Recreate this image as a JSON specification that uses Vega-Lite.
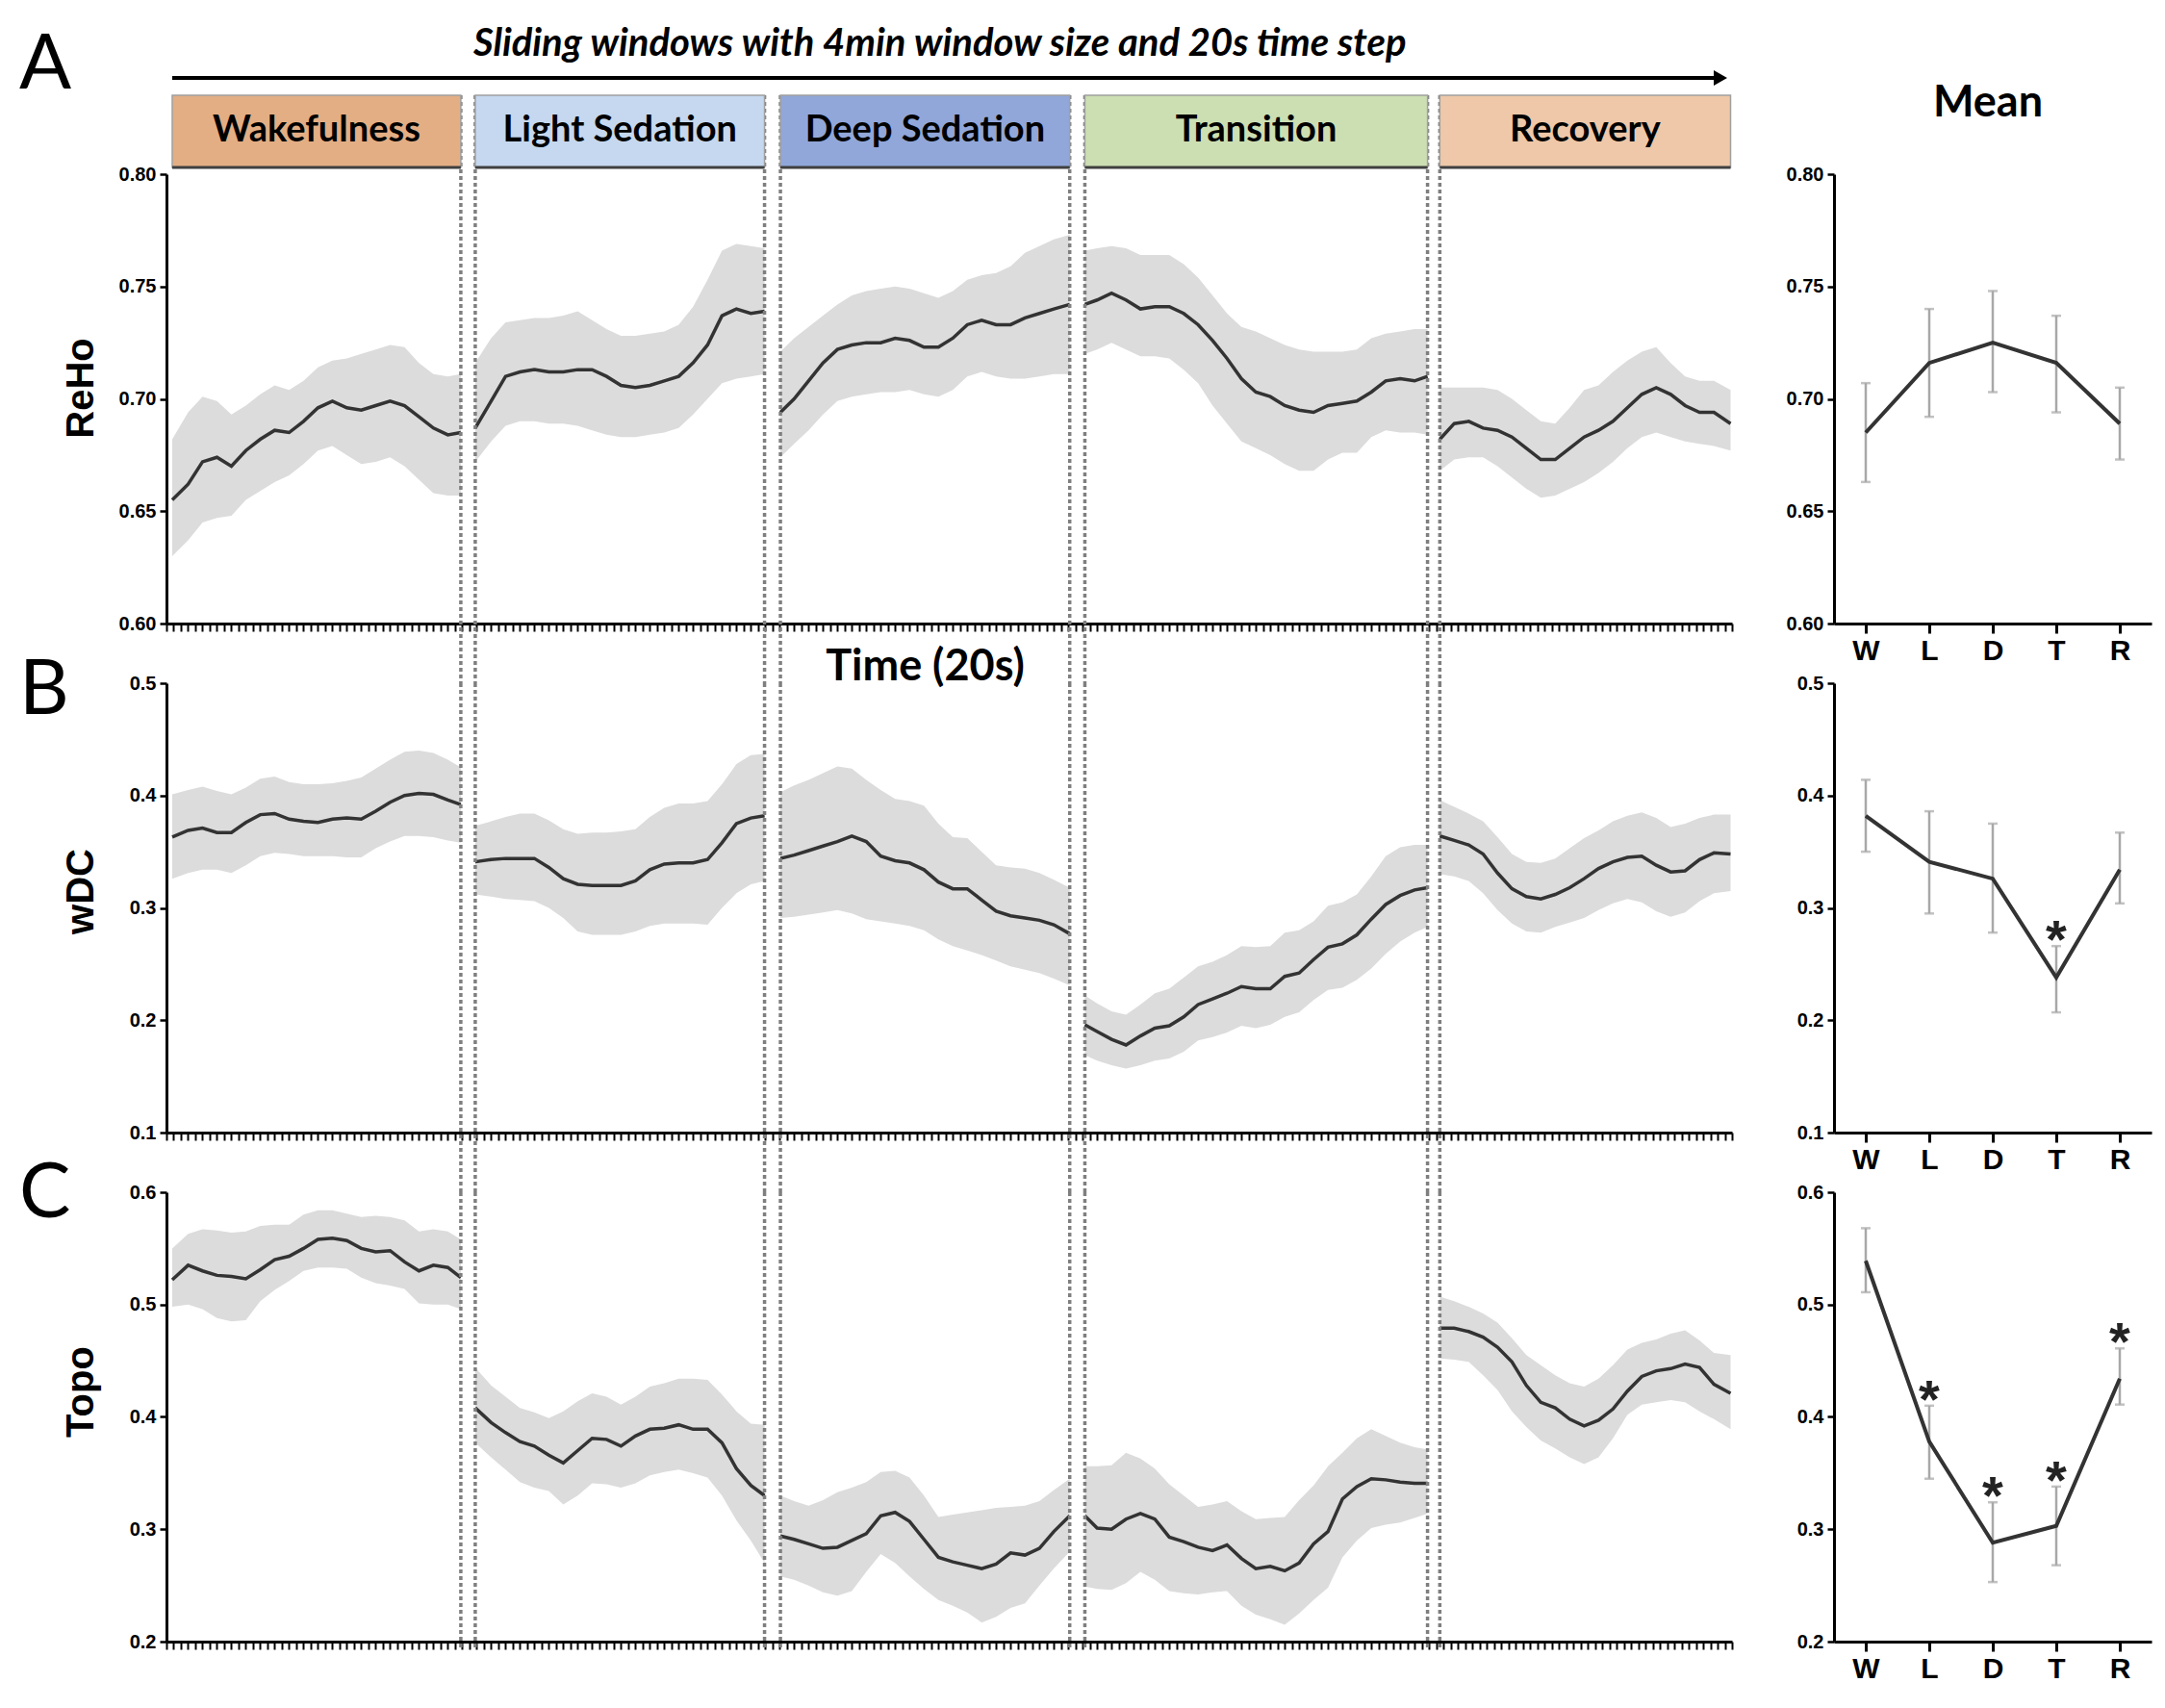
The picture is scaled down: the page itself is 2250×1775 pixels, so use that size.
{
"$schema": "https://vega.github.io/schema/vega-lite/v6.json",
"background": "white",
"padding": {"left": 20, "top": 26, "right": 10, "bottom": 10},
"config": {
  "view": {"stroke": null},
  "axis": {"grid": false, "domainColor": "#000", "domainWidth": 3, "tickColor": "#000", "tickWidth": 2.5, "labelFont": "Liberation Sans", "labelFontWeight": "bold", "labelFontSize": 20, "labelColor": "#000", "titleColor": "#000"}
},
"datasets": {
"phases": [
 {"phase":"Wakefulness","start":0.8,"end":40.8,"mid":20.8},
 {"phase":"Light Sedation","start":42.8,"end":82.9,"mid":62.85},
 {"phase":"Deep Sedation","start":85.1,"end":125.2,"mid":105.15},
 {"phase":"Transition","start":127.3,"end":174.8,"mid":151.05},
 {"phase":"Recovery","start":176.5,"end":216.8,"mid":196.65}
],
"means": [
 {"metric":"ReHo","stage":"W","m":0.685,"lo":0.663,"hi":0.707,"sig":""},
 {"metric":"ReHo","stage":"L","m":0.716,"lo":0.692,"hi":0.740,"sig":""},
 {"metric":"ReHo","stage":"D","m":0.725,"lo":0.703,"hi":0.748,"sig":""},
 {"metric":"ReHo","stage":"T","m":0.716,"lo":0.694,"hi":0.737,"sig":""},
 {"metric":"ReHo","stage":"R","m":0.689,"lo":0.673,"hi":0.705,"sig":""},
 {"metric":"wDC","stage":"W","m":0.382,"lo":0.350,"hi":0.414,"sig":""},
 {"metric":"wDC","stage":"L","m":0.341,"lo":0.295,"hi":0.386,"sig":""},
 {"metric":"wDC","stage":"D","m":0.326,"lo":0.278,"hi":0.375,"sig":""},
 {"metric":"wDC","stage":"T","m":0.238,"lo":0.207,"hi":0.266,"sig":"*"},
 {"metric":"wDC","stage":"R","m":0.334,"lo":0.304,"hi":0.367,"sig":""},
 {"metric":"Topo","stage":"W","m":0.539,"lo":0.511,"hi":0.568,"sig":""},
 {"metric":"Topo","stage":"L","m":0.378,"lo":0.345,"hi":0.410,"sig":"*"},
 {"metric":"Topo","stage":"D","m":0.288,"lo":0.253,"hi":0.324,"sig":"*"},
 {"metric":"Topo","stage":"T","m":0.303,"lo":0.268,"hi":0.338,"sig":"*"},
 {"metric":"Topo","stage":"R","m":0.434,"lo":0.411,"hi":0.461,"sig":"*"}
],
"reho": [
{"p":"W","t":0.8,"m":0.655,"lo":0.630,"hi":0.682},{"p":"W","t":3,"m":0.662,"lo":0.637,"hi":0.694},{"p":"W","t":5,"m":0.672,"lo":0.645,"hi":0.701},{"p":"W","t":7,"m":0.674,"lo":0.647,"hi":0.699},{"p":"W","t":9,"m":0.670,"lo":0.648,"hi":0.693},{"p":"W","t":11,"m":0.677,"lo":0.655,"hi":0.697},{"p":"W","t":13,"m":0.682,"lo":0.659,"hi":0.702},{"p":"W","t":15,"m":0.686,"lo":0.663,"hi":0.706},{"p":"W","t":17,"m":0.685,"lo":0.666,"hi":0.704},{"p":"W","t":19,"m":0.690,"lo":0.671,"hi":0.708},{"p":"W","t":21,"m":0.696,"lo":0.677,"hi":0.714},{"p":"W","t":23,"m":0.699,"lo":0.679,"hi":0.717},{"p":"W","t":25,"m":0.696,"lo":0.675,"hi":0.718},{"p":"W","t":27,"m":0.695,"lo":0.671,"hi":0.720},{"p":"W","t":29,"m":0.697,"lo":0.672,"hi":0.722},{"p":"W","t":31,"m":0.699,"lo":0.674,"hi":0.724},{"p":"W","t":33,"m":0.697,"lo":0.670,"hi":0.723},{"p":"W","t":35,"m":0.692,"lo":0.664,"hi":0.716},{"p":"W","t":37,"m":0.687,"lo":0.658,"hi":0.711},{"p":"W","t":39,"m":0.684,"lo":0.657,"hi":0.710},{"p":"W","t":40.8,"m":0.685,"lo":0.657,"hi":0.711},
{"p":"L","t":42.8,"m":0.687,"lo":0.672,"hi":0.716},{"p":"L","t":45,"m":0.699,"lo":0.681,"hi":0.727},{"p":"L","t":47,"m":0.710,"lo":0.688,"hi":0.734},{"p":"L","t":49,"m":0.712,"lo":0.690,"hi":0.735},{"p":"L","t":51,"m":0.713,"lo":0.690,"hi":0.736},{"p":"L","t":53,"m":0.712,"lo":0.689,"hi":0.736},{"p":"L","t":55,"m":0.712,"lo":0.689,"hi":0.737},{"p":"L","t":57,"m":0.713,"lo":0.688,"hi":0.739},{"p":"L","t":59,"m":0.713,"lo":0.686,"hi":0.735},{"p":"L","t":61,"m":0.710,"lo":0.684,"hi":0.731},{"p":"L","t":63,"m":0.706,"lo":0.683,"hi":0.728},{"p":"L","t":65,"m":0.705,"lo":0.683,"hi":0.728},{"p":"L","t":67,"m":0.706,"lo":0.684,"hi":0.729},{"p":"L","t":69,"m":0.708,"lo":0.685,"hi":0.730},{"p":"L","t":71,"m":0.710,"lo":0.687,"hi":0.733},{"p":"L","t":73,"m":0.716,"lo":0.693,"hi":0.741},{"p":"L","t":75,"m":0.724,"lo":0.700,"hi":0.753},{"p":"L","t":77,"m":0.737,"lo":0.707,"hi":0.766},{"p":"L","t":79,"m":0.740,"lo":0.709,"hi":0.769},{"p":"L","t":81,"m":0.738,"lo":0.710,"hi":0.768},{"p":"L","t":82.9,"m":0.739,"lo":0.711,"hi":0.767},
{"p":"D","t":85.1,"m":0.694,"lo":0.674,"hi":0.721},{"p":"D","t":87,"m":0.700,"lo":0.680,"hi":0.727},{"p":"D","t":89,"m":0.708,"lo":0.686,"hi":0.732},{"p":"D","t":91,"m":0.716,"lo":0.693,"hi":0.737},{"p":"D","t":93,"m":0.722,"lo":0.699,"hi":0.742},{"p":"D","t":95,"m":0.724,"lo":0.701,"hi":0.746},{"p":"D","t":97,"m":0.725,"lo":0.702,"hi":0.748},{"p":"D","t":99,"m":0.725,"lo":0.703,"hi":0.749},{"p":"D","t":101,"m":0.727,"lo":0.703,"hi":0.750},{"p":"D","t":103,"m":0.726,"lo":0.704,"hi":0.749},{"p":"D","t":105,"m":0.723,"lo":0.702,"hi":0.747},{"p":"D","t":107,"m":0.723,"lo":0.701,"hi":0.745},{"p":"D","t":109,"m":0.727,"lo":0.704,"hi":0.748},{"p":"D","t":111,"m":0.733,"lo":0.710,"hi":0.753},{"p":"D","t":113,"m":0.735,"lo":0.712,"hi":0.755},{"p":"D","t":115,"m":0.733,"lo":0.710,"hi":0.756},{"p":"D","t":117,"m":0.733,"lo":0.709,"hi":0.759},{"p":"D","t":119,"m":0.736,"lo":0.709,"hi":0.765},{"p":"D","t":121,"m":0.738,"lo":0.710,"hi":0.768},{"p":"D","t":123,"m":0.740,"lo":0.711,"hi":0.771},{"p":"D","t":125.2,"m":0.742,"lo":0.711,"hi":0.773},
{"p":"T","t":127.3,"m":0.742,"lo":0.720,"hi":0.766},{"p":"T","t":129,"m":0.744,"lo":0.722,"hi":0.767},{"p":"T","t":131,"m":0.747,"lo":0.725,"hi":0.768},{"p":"T","t":133,"m":0.744,"lo":0.722,"hi":0.767},{"p":"T","t":135,"m":0.740,"lo":0.719,"hi":0.764},{"p":"T","t":137,"m":0.741,"lo":0.719,"hi":0.764},{"p":"T","t":139,"m":0.741,"lo":0.718,"hi":0.764},{"p":"T","t":141,"m":0.738,"lo":0.713,"hi":0.760},{"p":"T","t":143,"m":0.733,"lo":0.707,"hi":0.754},{"p":"T","t":145,"m":0.726,"lo":0.697,"hi":0.746},{"p":"T","t":147,"m":0.718,"lo":0.689,"hi":0.738},{"p":"T","t":149,"m":0.709,"lo":0.681,"hi":0.732},{"p":"T","t":151,"m":0.703,"lo":0.678,"hi":0.730},{"p":"T","t":153,"m":0.701,"lo":0.675,"hi":0.727},{"p":"T","t":155,"m":0.697,"lo":0.671,"hi":0.724},{"p":"T","t":157,"m":0.695,"lo":0.668,"hi":0.722},{"p":"T","t":159,"m":0.694,"lo":0.668,"hi":0.721},{"p":"T","t":161,"m":0.697,"lo":0.673,"hi":0.721},{"p":"T","t":163,"m":0.698,"lo":0.676,"hi":0.721},{"p":"T","t":165,"m":0.699,"lo":0.676,"hi":0.722},{"p":"T","t":167,"m":0.703,"lo":0.683,"hi":0.727},{"p":"T","t":169,"m":0.708,"lo":0.686,"hi":0.729},{"p":"T","t":171,"m":0.709,"lo":0.685,"hi":0.730},{"p":"T","t":173,"m":0.708,"lo":0.685,"hi":0.731},{"p":"T","t":174.8,"m":0.710,"lo":0.684,"hi":0.731},
{"p":"R","t":176.5,"m":0.682,"lo":0.668,"hi":0.705},{"p":"R","t":178.5,"m":0.689,"lo":0.673,"hi":0.705},{"p":"R","t":180.5,"m":0.690,"lo":0.674,"hi":0.705},{"p":"R","t":182.5,"m":0.687,"lo":0.674,"hi":0.705},{"p":"R","t":184.5,"m":0.686,"lo":0.670,"hi":0.704},{"p":"R","t":186.5,"m":0.683,"lo":0.665,"hi":0.700},{"p":"R","t":188.5,"m":0.678,"lo":0.660,"hi":0.695},{"p":"R","t":190.5,"m":0.673,"lo":0.656,"hi":0.690},{"p":"R","t":192.5,"m":0.673,"lo":0.657,"hi":0.689},{"p":"R","t":194.5,"m":0.678,"lo":0.660,"hi":0.696},{"p":"R","t":196.5,"m":0.683,"lo":0.663,"hi":0.704},{"p":"R","t":198.5,"m":0.686,"lo":0.667,"hi":0.706},{"p":"R","t":200.5,"m":0.690,"lo":0.672,"hi":0.712},{"p":"R","t":202.5,"m":0.696,"lo":0.678,"hi":0.717},{"p":"R","t":204.5,"m":0.702,"lo":0.683,"hi":0.721},{"p":"R","t":206.5,"m":0.705,"lo":0.685,"hi":0.723},{"p":"R","t":208.5,"m":0.702,"lo":0.683,"hi":0.716},{"p":"R","t":210.5,"m":0.697,"lo":0.681,"hi":0.710},{"p":"R","t":212.5,"m":0.694,"lo":0.680,"hi":0.708},{"p":"R","t":214.5,"m":0.694,"lo":0.679,"hi":0.708},{"p":"R","t":216.8,"m":0.689,"lo":0.677,"hi":0.704}
],
"wdc": [
{"p":"W","t":0.8,"m":0.363,"lo":0.326,"hi":0.401},{"p":"W","t":3,"m":0.369,"lo":0.331,"hi":0.405},{"p":"W","t":5,"m":0.371,"lo":0.334,"hi":0.408},{"p":"W","t":7,"m":0.367,"lo":0.334,"hi":0.404},{"p":"W","t":9,"m":0.367,"lo":0.331,"hi":0.401},{"p":"W","t":11,"m":0.376,"lo":0.338,"hi":0.407},{"p":"W","t":13,"m":0.383,"lo":0.346,"hi":0.415},{"p":"W","t":15,"m":0.384,"lo":0.349,"hi":0.417},{"p":"W","t":17,"m":0.379,"lo":0.348,"hi":0.412},{"p":"W","t":19,"m":0.377,"lo":0.346,"hi":0.410},{"p":"W","t":21,"m":0.376,"lo":0.346,"hi":0.410},{"p":"W","t":23,"m":0.379,"lo":0.346,"hi":0.411},{"p":"W","t":25,"m":0.380,"lo":0.345,"hi":0.413},{"p":"W","t":27,"m":0.379,"lo":0.345,"hi":0.416},{"p":"W","t":29,"m":0.386,"lo":0.353,"hi":0.424},{"p":"W","t":31,"m":0.394,"lo":0.359,"hi":0.432},{"p":"W","t":33,"m":0.400,"lo":0.364,"hi":0.439},{"p":"W","t":35,"m":0.402,"lo":0.364,"hi":0.440},{"p":"W","t":37,"m":0.401,"lo":0.363,"hi":0.438},{"p":"W","t":39,"m":0.396,"lo":0.360,"hi":0.432},{"p":"W","t":40.8,"m":0.392,"lo":0.358,"hi":0.425},
{"p":"L","t":42.8,"m":0.341,"lo":0.312,"hi":0.373},{"p":"L","t":45,"m":0.343,"lo":0.310,"hi":0.377},{"p":"L","t":47,"m":0.344,"lo":0.308,"hi":0.381},{"p":"L","t":49,"m":0.344,"lo":0.307,"hi":0.384},{"p":"L","t":51,"m":0.344,"lo":0.306,"hi":0.384},{"p":"L","t":53,"m":0.336,"lo":0.300,"hi":0.378},{"p":"L","t":55,"m":0.326,"lo":0.291,"hi":0.370},{"p":"L","t":57,"m":0.321,"lo":0.279,"hi":0.366},{"p":"L","t":59,"m":0.320,"lo":0.276,"hi":0.367},{"p":"L","t":61,"m":0.320,"lo":0.276,"hi":0.367},{"p":"L","t":63,"m":0.320,"lo":0.276,"hi":0.368},{"p":"L","t":65,"m":0.324,"lo":0.279,"hi":0.370},{"p":"L","t":67,"m":0.334,"lo":0.284,"hi":0.381},{"p":"L","t":69,"m":0.339,"lo":0.286,"hi":0.389},{"p":"L","t":71,"m":0.340,"lo":0.286,"hi":0.393},{"p":"L","t":73,"m":0.340,"lo":0.286,"hi":0.393},{"p":"L","t":75,"m":0.343,"lo":0.285,"hi":0.395},{"p":"L","t":77,"m":0.358,"lo":0.300,"hi":0.410},{"p":"L","t":79,"m":0.375,"lo":0.313,"hi":0.428},{"p":"L","t":81,"m":0.380,"lo":0.321,"hi":0.436},{"p":"L","t":82.9,"m":0.382,"lo":0.324,"hi":0.437},
{"p":"D","t":85.1,"m":0.344,"lo":0.291,"hi":0.403},{"p":"D","t":87,"m":0.347,"lo":0.292,"hi":0.409},{"p":"D","t":89,"m":0.351,"lo":0.294,"hi":0.414},{"p":"D","t":91,"m":0.355,"lo":0.296,"hi":0.420},{"p":"D","t":93,"m":0.359,"lo":0.298,"hi":0.426},{"p":"D","t":95,"m":0.364,"lo":0.295,"hi":0.424},{"p":"D","t":97,"m":0.359,"lo":0.290,"hi":0.414},{"p":"D","t":99,"m":0.346,"lo":0.288,"hi":0.405},{"p":"D","t":101,"m":0.342,"lo":0.286,"hi":0.397},{"p":"D","t":103,"m":0.340,"lo":0.284,"hi":0.395},{"p":"D","t":105,"m":0.334,"lo":0.280,"hi":0.391},{"p":"D","t":107,"m":0.323,"lo":0.272,"hi":0.375},{"p":"D","t":109,"m":0.317,"lo":0.266,"hi":0.363},{"p":"D","t":111,"m":0.317,"lo":0.262,"hi":0.362},{"p":"D","t":113,"m":0.307,"lo":0.258,"hi":0.350},{"p":"D","t":115,"m":0.297,"lo":0.253,"hi":0.338},{"p":"D","t":117,"m":0.293,"lo":0.248,"hi":0.336},{"p":"D","t":119,"m":0.291,"lo":0.245,"hi":0.335},{"p":"D","t":121,"m":0.289,"lo":0.242,"hi":0.331},{"p":"D","t":123,"m":0.285,"lo":0.237,"hi":0.325},{"p":"D","t":125.2,"m":0.277,"lo":0.231,"hi":0.318},
{"p":"T","t":127.3,"m":0.196,"lo":0.169,"hi":0.222},{"p":"T","t":129,"m":0.190,"lo":0.164,"hi":0.215},{"p":"T","t":131,"m":0.183,"lo":0.160,"hi":0.208},{"p":"T","t":133,"m":0.178,"lo":0.157,"hi":0.205},{"p":"T","t":135,"m":0.186,"lo":0.160,"hi":0.214},{"p":"T","t":137,"m":0.193,"lo":0.164,"hi":0.224},{"p":"T","t":139,"m":0.195,"lo":0.166,"hi":0.228},{"p":"T","t":141,"m":0.203,"lo":0.172,"hi":0.238},{"p":"T","t":143,"m":0.214,"lo":0.182,"hi":0.248},{"p":"T","t":145,"m":0.219,"lo":0.185,"hi":0.252},{"p":"T","t":147,"m":0.224,"lo":0.189,"hi":0.258},{"p":"T","t":149,"m":0.230,"lo":0.195,"hi":0.266},{"p":"T","t":151,"m":0.228,"lo":0.193,"hi":0.265},{"p":"T","t":153,"m":0.228,"lo":0.196,"hi":0.266},{"p":"T","t":155,"m":0.239,"lo":0.203,"hi":0.278},{"p":"T","t":157,"m":0.242,"lo":0.207,"hi":0.280},{"p":"T","t":159,"m":0.254,"lo":0.218,"hi":0.288},{"p":"T","t":161,"m":0.265,"lo":0.227,"hi":0.302},{"p":"T","t":163,"m":0.268,"lo":0.229,"hi":0.305},{"p":"T","t":165,"m":0.276,"lo":0.236,"hi":0.312},{"p":"T","t":167,"m":0.290,"lo":0.246,"hi":0.328},{"p":"T","t":169,"m":0.303,"lo":0.259,"hi":0.346},{"p":"T","t":171,"m":0.311,"lo":0.270,"hi":0.354},{"p":"T","t":173,"m":0.316,"lo":0.278,"hi":0.356},{"p":"T","t":174.8,"m":0.318,"lo":0.283,"hi":0.356},
{"p":"R","t":176.5,"m":0.364,"lo":0.330,"hi":0.396},{"p":"R","t":178.5,"m":0.360,"lo":0.328,"hi":0.390},{"p":"R","t":180.5,"m":0.356,"lo":0.324,"hi":0.384},{"p":"R","t":182.5,"m":0.348,"lo":0.313,"hi":0.377},{"p":"R","t":184.5,"m":0.331,"lo":0.298,"hi":0.363},{"p":"R","t":186.5,"m":0.317,"lo":0.286,"hi":0.348},{"p":"R","t":188.5,"m":0.310,"lo":0.279,"hi":0.341},{"p":"R","t":190.5,"m":0.308,"lo":0.278,"hi":0.340},{"p":"R","t":192.5,"m":0.312,"lo":0.283,"hi":0.344},{"p":"R","t":194.5,"m":0.318,"lo":0.287,"hi":0.353},{"p":"R","t":196.5,"m":0.326,"lo":0.291,"hi":0.362},{"p":"R","t":198.5,"m":0.335,"lo":0.298,"hi":0.369},{"p":"R","t":200.5,"m":0.341,"lo":0.304,"hi":0.377},{"p":"R","t":202.5,"m":0.345,"lo":0.308,"hi":0.382},{"p":"R","t":204.5,"m":0.346,"lo":0.305,"hi":0.385},{"p":"R","t":206.5,"m":0.338,"lo":0.297,"hi":0.380},{"p":"R","t":208.5,"m":0.332,"lo":0.292,"hi":0.372},{"p":"R","t":210.5,"m":0.333,"lo":0.296,"hi":0.375},{"p":"R","t":212.5,"m":0.343,"lo":0.306,"hi":0.380},{"p":"R","t":214.5,"m":0.349,"lo":0.313,"hi":0.383},{"p":"R","t":216.8,"m":0.348,"lo":0.315,"hi":0.383}
],
"topo": [
{"p":"W","t":0.8,"m":0.522,"lo":0.498,"hi":0.550},{"p":"W","t":3,"m":0.535,"lo":0.500,"hi":0.563},{"p":"W","t":5,"m":0.530,"lo":0.496,"hi":0.567},{"p":"W","t":7,"m":0.526,"lo":0.488,"hi":0.566},{"p":"W","t":9,"m":0.525,"lo":0.485,"hi":0.564},{"p":"W","t":11,"m":0.523,"lo":0.486,"hi":0.565},{"p":"W","t":13,"m":0.531,"lo":0.503,"hi":0.570},{"p":"W","t":15,"m":0.540,"lo":0.513,"hi":0.571},{"p":"W","t":17,"m":0.543,"lo":0.521,"hi":0.571},{"p":"W","t":19,"m":0.550,"lo":0.530,"hi":0.580},{"p":"W","t":21,"m":0.558,"lo":0.533,"hi":0.584},{"p":"W","t":23,"m":0.559,"lo":0.533,"hi":0.584},{"p":"W","t":25,"m":0.557,"lo":0.532,"hi":0.581},{"p":"W","t":27,"m":0.550,"lo":0.524,"hi":0.578},{"p":"W","t":29,"m":0.547,"lo":0.519,"hi":0.579},{"p":"W","t":31,"m":0.548,"lo":0.517,"hi":0.578},{"p":"W","t":33,"m":0.538,"lo":0.514,"hi":0.575},{"p":"W","t":35,"m":0.530,"lo":0.501,"hi":0.565},{"p":"W","t":37,"m":0.535,"lo":0.500,"hi":0.567},{"p":"W","t":39,"m":0.533,"lo":0.500,"hi":0.565},{"p":"W","t":40.8,"m":0.524,"lo":0.496,"hi":0.558},
{"p":"L","t":42.8,"m":0.408,"lo":0.377,"hi":0.444},{"p":"L","t":45,"m":0.395,"lo":0.364,"hi":0.428},{"p":"L","t":47,"m":0.386,"lo":0.353,"hi":0.418},{"p":"L","t":49,"m":0.378,"lo":0.342,"hi":0.408},{"p":"L","t":51,"m":0.374,"lo":0.337,"hi":0.404},{"p":"L","t":53,"m":0.366,"lo":0.334,"hi":0.399},{"p":"L","t":55,"m":0.359,"lo":0.322,"hi":0.405},{"p":"L","t":57,"m":0.370,"lo":0.330,"hi":0.414},{"p":"L","t":59,"m":0.381,"lo":0.341,"hi":0.421},{"p":"L","t":61,"m":0.380,"lo":0.340,"hi":0.418},{"p":"L","t":63,"m":0.374,"lo":0.337,"hi":0.411},{"p":"L","t":65,"m":0.383,"lo":0.341,"hi":0.418},{"p":"L","t":67,"m":0.389,"lo":0.348,"hi":0.427},{"p":"L","t":69,"m":0.390,"lo":0.351,"hi":0.430},{"p":"L","t":71,"m":0.393,"lo":0.353,"hi":0.434},{"p":"L","t":73,"m":0.389,"lo":0.350,"hi":0.434},{"p":"L","t":75,"m":0.389,"lo":0.346,"hi":0.433},{"p":"L","t":77,"m":0.377,"lo":0.330,"hi":0.420},{"p":"L","t":79,"m":0.354,"lo":0.308,"hi":0.405},{"p":"L","t":81,"m":0.339,"lo":0.290,"hi":0.394},{"p":"L","t":82.9,"m":0.330,"lo":0.270,"hi":0.393},
{"p":"D","t":85.1,"m":0.294,"lo":0.258,"hi":0.330},{"p":"D","t":87,"m":0.291,"lo":0.255,"hi":0.325},{"p":"D","t":89,"m":0.287,"lo":0.250,"hi":0.321},{"p":"D","t":91,"m":0.283,"lo":0.244,"hi":0.326},{"p":"D","t":93,"m":0.284,"lo":0.241,"hi":0.333},{"p":"D","t":95,"m":0.290,"lo":0.245,"hi":0.337},{"p":"D","t":97,"m":0.296,"lo":0.262,"hi":0.342},{"p":"D","t":99,"m":0.312,"lo":0.278,"hi":0.351},{"p":"D","t":101,"m":0.315,"lo":0.270,"hi":0.352},{"p":"D","t":103,"m":0.307,"lo":0.258,"hi":0.346},{"p":"D","t":105,"m":0.291,"lo":0.247,"hi":0.330},{"p":"D","t":107,"m":0.275,"lo":0.237,"hi":0.311},{"p":"D","t":109,"m":0.271,"lo":0.232,"hi":0.313},{"p":"D","t":111,"m":0.268,"lo":0.226,"hi":0.315},{"p":"D","t":113,"m":0.265,"lo":0.217,"hi":0.317},{"p":"D","t":115,"m":0.269,"lo":0.222,"hi":0.319},{"p":"D","t":117,"m":0.279,"lo":0.230,"hi":0.320},{"p":"D","t":119,"m":0.277,"lo":0.234,"hi":0.321},{"p":"D","t":121,"m":0.283,"lo":0.250,"hi":0.325},{"p":"D","t":123,"m":0.298,"lo":0.265,"hi":0.335},{"p":"D","t":125.2,"m":0.312,"lo":0.280,"hi":0.345},
{"p":"T","t":127.3,"m":0.312,"lo":0.249,"hi":0.356},{"p":"T","t":129,"m":0.301,"lo":0.247,"hi":0.356},{"p":"T","t":131,"m":0.300,"lo":0.246,"hi":0.357},{"p":"T","t":133,"m":0.309,"lo":0.252,"hi":0.368},{"p":"T","t":135,"m":0.314,"lo":0.262,"hi":0.363},{"p":"T","t":137,"m":0.309,"lo":0.255,"hi":0.354},{"p":"T","t":139,"m":0.293,"lo":0.245,"hi":0.340},{"p":"T","t":141,"m":0.289,"lo":0.243,"hi":0.330},{"p":"T","t":143,"m":0.284,"lo":0.242,"hi":0.320},{"p":"T","t":145,"m":0.281,"lo":0.244,"hi":0.322},{"p":"T","t":147,"m":0.286,"lo":0.245,"hi":0.325},{"p":"T","t":149,"m":0.274,"lo":0.232,"hi":0.316},{"p":"T","t":151,"m":0.265,"lo":0.224,"hi":0.309},{"p":"T","t":153,"m":0.267,"lo":0.220,"hi":0.310},{"p":"T","t":155,"m":0.263,"lo":0.215,"hi":0.311},{"p":"T","t":157,"m":0.270,"lo":0.225,"hi":0.326},{"p":"T","t":159,"m":0.287,"lo":0.237,"hi":0.339},{"p":"T","t":161,"m":0.298,"lo":0.248,"hi":0.356},{"p":"T","t":163,"m":0.327,"lo":0.275,"hi":0.368},{"p":"T","t":165,"m":0.338,"lo":0.290,"hi":0.381},{"p":"T","t":167,"m":0.345,"lo":0.301,"hi":0.389},{"p":"T","t":169,"m":0.344,"lo":0.304,"hi":0.383},{"p":"T","t":171,"m":0.342,"lo":0.306,"hi":0.377},{"p":"T","t":173,"m":0.341,"lo":0.310,"hi":0.373},{"p":"T","t":174.8,"m":0.341,"lo":0.314,"hi":0.371},
{"p":"R","t":176.5,"m":0.479,"lo":0.452,"hi":0.507},{"p":"R","t":178.5,"m":0.479,"lo":0.451,"hi":0.503},{"p":"R","t":180.5,"m":0.476,"lo":0.449,"hi":0.498},{"p":"R","t":182.5,"m":0.471,"lo":0.437,"hi":0.492},{"p":"R","t":184.5,"m":0.462,"lo":0.424,"hi":0.484},{"p":"R","t":186.5,"m":0.449,"lo":0.405,"hi":0.470},{"p":"R","t":188.5,"m":0.428,"lo":0.391,"hi":0.455},{"p":"R","t":190.5,"m":0.413,"lo":0.379,"hi":0.446},{"p":"R","t":192.5,"m":0.408,"lo":0.372,"hi":0.437},{"p":"R","t":194.5,"m":0.398,"lo":0.364,"hi":0.430},{"p":"R","t":196.5,"m":0.392,"lo":0.358,"hi":0.427},{"p":"R","t":198.5,"m":0.397,"lo":0.364,"hi":0.434},{"p":"R","t":200.5,"m":0.407,"lo":0.381,"hi":0.446},{"p":"R","t":202.5,"m":0.423,"lo":0.402,"hi":0.460},{"p":"R","t":204.5,"m":0.436,"lo":0.411,"hi":0.466},{"p":"R","t":206.5,"m":0.441,"lo":0.413,"hi":0.469},{"p":"R","t":208.5,"m":0.443,"lo":0.415,"hi":0.474},{"p":"R","t":210.5,"m":0.447,"lo":0.413,"hi":0.477},{"p":"R","t":212.5,"m":0.444,"lo":0.405,"hi":0.468},{"p":"R","t":214.5,"m":0.429,"lo":0.398,"hi":0.457},{"p":"R","t":216.8,"m":0.421,"lo":0.389,"hi":0.455}
]
},
"columns": 2,
"bounds": "flush",
"align": "each",
"spacing": {"row": 62, "column": 106},
"concat": [
{
 "width": 1627, "height": 467,
 "layer": [
  {"data": {"name": "reho"}, "mark": {"type": "area", "color": "#dcdcdc"},
   "encoding": {
    "x": {"field": "t", "type": "quantitative", "scale": {"domain": [0, 217], "nice": false, "zero": false},
          "axis": {"title": "Time (20s)", "titleFont": "Lato", "titleFontSize": 45, "titleFontWeight": "bold", "titleX": 788, "titleY": 44, "titleBaseline": "middle", "titleAlign": "center", "labels": false, "tickCount": 217, "tickSize": 8, "tickWidth": 2}},
    "y": {"field": "lo", "type": "quantitative", "scale": {"domain": [0.6, 0.8], "nice": false, "zero": false},
          "axis": {"values": [0.6, 0.65, 0.7, 0.75, 0.8], "format": ".2f", "tickSize": 7, "labelPadding": 4, "title": "ReHo", "titleFont": "Liberation Sans", "titleFontSize": 40, "titleFontWeight": "bold", "titleAngle": -90, "titleX": -89, "titleY": 222, "titleAlign": "center", "titleBaseline": "middle"}},
    "y2": {"field": "hi"},
    "detail": {"field": "p"}
   }},
  {"data": {"name": "reho"}, "mark": {"type": "line", "color": "#333333", "strokeWidth": 3.5},
   "encoding": {"x": {"field": "t", "type": "quantitative"}, "y": {"field": "m", "type": "quantitative"}, "detail": {"field": "p"}}},
  {"data": {"name": "phases"}, "transform": [{"filter": "datum.phase !== 'Recovery'"}],
   "mark": {"type": "rule", "color": "#7f7f7f", "strokeWidth": 3.5, "strokeDash": [4, 3]},
   "encoding": {"x": {"field": "end", "type": "quantitative"}, "y": {"datum": 0.8351}, "y2": {"datum": 0.5735}}},
  {"data": {"name": "phases"}, "transform": [{"filter": "datum.phase !== 'Wakefulness'"}],
   "mark": {"type": "rule", "color": "#7f7f7f", "strokeWidth": 3.5, "strokeDash": [4, 3]},
   "encoding": {"x": {"field": "start", "type": "quantitative"}, "y": {"datum": 0.8351}, "y2": {"datum": 0.5735}}},
  {"data": {"name": "phases"}, "mark": {"type": "rect", "stroke": "#a0a0a0", "strokeWidth": 1.5},
   "encoding": {"x": {"field": "start", "type": "quantitative"}, "x2": {"field": "end"}, "y": {"datum": 0.8351}, "y2": {"datum": 0.8030},
    "color": {"field": "phase", "type": "nominal", "legend": null, "scale": {"domain": ["Wakefulness", "Light Sedation", "Deep Sedation", "Transition", "Recovery"], "range": ["#E3AE84", "#C5D8EF", "#91A7D9", "#CCDFB3", "#EEC8A8"]}}}},
  {"data": {"name": "phases"}, "mark": {"type": "rule", "color": "#404040", "strokeWidth": 3},
   "encoding": {"x": {"field": "start", "type": "quantitative"}, "x2": {"field": "end"}, "y": {"datum": 0.8030}}},
  {"data": {"name": "phases"}, "mark": {"type": "text", "font": "Lato", "fontSize": 38, "fontWeight": "bold", "color": "#000", "baseline": "middle", "align": "center"},
   "encoding": {"x": {"field": "mid", "type": "quantitative"}, "y": {"datum": 0.8191}, "text": {"field": "phase"}}},
  {"data": {"values": [{}]}, "mark": {"type": "rule", "color": "#000", "strokeWidth": 4},
   "encoding": {"x": {"datum": 0.8}, "x2": {"datum": 215.5}, "y": {"datum": 0.8428}}},
  {"data": {"values": [{}]}, "mark": {"type": "point", "shape": "triangle-right", "filled": true, "color": "#000", "size": 260, "opacity": 1},
   "encoding": {"x": {"datum": 215.4}, "y": {"datum": 0.8428}}},
  {"data": {"values": [{}]}, "mark": {"type": "text", "text": "Sliding windows with 4min window size and 20s time step", "font": "Lato", "fontSize": 40, "fontWeight": "bold", "fontStyle": "italic", "color": "#000", "baseline": "middle", "align": "center"},
   "encoding": {"x": {"datum": 107.2}, "y": {"datum": 0.8578}}},
  {"data": {"values": [{}]}, "mark": {"type": "text", "text": "A", "font": "Lato", "fontSize": 80, "color": "#000", "baseline": "middle", "align": "left", "dx": -153, "dy": -113},
   "encoding": {"x": {"datum": 0}, "y": {"datum": 0.8}}}
 ]
},
{
 "width": 330, "height": 467,
 "data": {"name": "means"},
 "transform": [{"filter": "datum.metric === 'ReHo'"}],
 "layer": [
  {"mark": {"type": "rule", "color": "#a8a8a8", "strokeWidth": 2.5},
   "encoding": {
    "x": {"field": "stage", "type": "ordinal", "scale": {"type": "point", "domain": ["W", "L", "D", "T", "R"], "padding": 0.5},
          "axis": {"title": null, "labelAngle": 0, "labelFontSize": 30, "labelPadding": 3, "tickSize": 10, "tickWidth": 3}},
    "y": {"field": "lo", "type": "quantitative", "scale": {"domain": [0.6, 0.8], "nice": false, "zero": false},
          "axis": {"title": null, "values": [0.6, 0.65, 0.7, 0.75, 0.8], "format": ".2f", "tickSize": 7, "labelPadding": 4}},
    "y2": {"field": "hi"}}},
  {"mark": {"type": "tick", "color": "#a8a8a8", "thickness": 2.5, "size": 10},
   "encoding": {"x": {"field": "stage", "type": "ordinal"}, "y": {"field": "hi", "type": "quantitative"}}},
  {"mark": {"type": "tick", "color": "#a8a8a8", "thickness": 2.5, "size": 10},
   "encoding": {"x": {"field": "stage", "type": "ordinal"}, "y": {"field": "lo", "type": "quantitative"}}},
  {"mark": {"type": "line", "color": "#333333", "strokeWidth": 4},
   "encoding": {"x": {"field": "stage", "type": "ordinal"}, "y": {"field": "m", "type": "quantitative"}, "order": {"value": null}}},
  {"data": {"values": [{}]}, "mark": {"type": "text", "text": "Mean", "font": "Lato", "fontSize": 45, "fontWeight": "bold", "color": "#000", "baseline": "middle", "align": "center", "dx": -5, "dy": -74},
   "encoding": {"x": {"datum": "D", "type": "ordinal"}, "y": {"datum": 0.8}}}
 ]
},
{
 "width": 1627, "height": 467,
 "layer": [
  {"data": {"name": "wdc"}, "mark": {"type": "area", "color": "#dcdcdc"},
   "encoding": {
    "x": {"field": "t", "type": "quantitative", "scale": {"domain": [0, 217], "nice": false, "zero": false},
          "axis": {"title": null, "labels": false, "tickCount": 217, "tickSize": 8, "tickWidth": 2}},
    "y": {"field": "lo", "type": "quantitative", "scale": {"domain": [0.1, 0.5], "nice": false, "zero": false},
          "axis": {"values": [0.1, 0.2, 0.3, 0.4, 0.5], "format": ".1f", "tickSize": 7, "labelPadding": 4, "title": "wDC", "titleFont": "Liberation Sans", "titleFontSize": 40, "titleFontWeight": "bold", "titleAngle": -90, "titleX": -89, "titleY": 216, "titleAlign": "center", "titleBaseline": "middle"}},
    "y2": {"field": "hi"},
    "detail": {"field": "p"}
   }},
  {"data": {"name": "wdc"}, "mark": {"type": "line", "color": "#333333", "strokeWidth": 3.5},
   "encoding": {"x": {"field": "t", "type": "quantitative"}, "y": {"field": "m", "type": "quantitative"}, "detail": {"field": "p"}}},
  {"data": {"name": "phases"}, "transform": [{"filter": "datum.phase !== 'Recovery'"}],
   "mark": {"type": "rule", "color": "#7f7f7f", "strokeWidth": 3.5, "strokeDash": [4, 3]},
   "encoding": {"x": {"field": "end", "type": "quantitative"}, "y": {"datum": 0.5}, "y2": {"datum": 0.0469}}},
  {"data": {"name": "phases"}, "transform": [{"filter": "datum.phase !== 'Wakefulness'"}],
   "mark": {"type": "rule", "color": "#7f7f7f", "strokeWidth": 3.5, "strokeDash": [4, 3]},
   "encoding": {"x": {"field": "start", "type": "quantitative"}, "y": {"datum": 0.5}, "y2": {"datum": 0.0469}}},
  {"data": {"values": [{}]}, "mark": {"type": "text", "text": "B", "font": "Lato", "fontSize": 80, "color": "#000", "baseline": "middle", "align": "left", "dx": -153, "dy": 8},
   "encoding": {"x": {"datum": 0}, "y": {"datum": 0.5}}}
 ]
},
{
 "width": 330, "height": 467,
 "data": {"name": "means"},
 "transform": [{"filter": "datum.metric === 'wDC'"}],
 "layer": [
  {"mark": {"type": "rule", "color": "#a8a8a8", "strokeWidth": 2.5},
   "encoding": {
    "x": {"field": "stage", "type": "ordinal", "scale": {"type": "point", "domain": ["W", "L", "D", "T", "R"], "padding": 0.5},
          "axis": {"title": null, "labelAngle": 0, "labelFontSize": 30, "labelPadding": 3, "tickSize": 10, "tickWidth": 3}},
    "y": {"field": "lo", "type": "quantitative", "scale": {"domain": [0.1, 0.5], "nice": false, "zero": false},
          "axis": {"title": null, "values": [0.1, 0.2, 0.3, 0.4, 0.5], "format": ".1f", "tickSize": 7, "labelPadding": 4}},
    "y2": {"field": "hi"}}},
  {"mark": {"type": "tick", "color": "#a8a8a8", "thickness": 2.5, "size": 10},
   "encoding": {"x": {"field": "stage", "type": "ordinal"}, "y": {"field": "hi", "type": "quantitative"}}},
  {"mark": {"type": "tick", "color": "#a8a8a8", "thickness": 2.5, "size": 10},
   "encoding": {"x": {"field": "stage", "type": "ordinal"}, "y": {"field": "lo", "type": "quantitative"}}},
  {"mark": {"type": "line", "color": "#333333", "strokeWidth": 4},
   "encoding": {"x": {"field": "stage", "type": "ordinal"}, "y": {"field": "m", "type": "quantitative"}, "order": {"value": null}}},
  {"transform": [{"filter": "datum.sig === '*'"}],
   "mark": {"type": "text", "font": "Liberation Sans", "fontSize": 56, "fontWeight": "bold", "color": "#222", "baseline": "alphabetic", "align": "center", "dy": 12},
   "encoding": {"x": {"field": "stage", "type": "ordinal"}, "y": {"field": "hi", "type": "quantitative"}, "text": {"field": "sig"}}}
 ]
},
{
 "width": 1627, "height": 467,
 "layer": [
  {"data": {"name": "topo"}, "mark": {"type": "area", "color": "#dcdcdc"},
   "encoding": {
    "x": {"field": "t", "type": "quantitative", "scale": {"domain": [0, 217], "nice": false, "zero": false},
          "axis": {"title": null, "labels": false, "tickCount": 217, "tickSize": 8, "tickWidth": 2}},
    "y": {"field": "lo", "type": "quantitative", "scale": {"domain": [0.2, 0.6], "nice": false, "zero": false},
          "axis": {"values": [0.2, 0.3, 0.4, 0.5, 0.6], "format": ".1f", "tickSize": 7, "labelPadding": 4, "title": "Topo", "titleFont": "Liberation Sans", "titleFontSize": 40, "titleFontWeight": "bold", "titleAngle": -90, "titleX": -89, "titleY": 207, "titleAlign": "center", "titleBaseline": "middle"}},
    "y2": {"field": "hi"},
    "detail": {"field": "p"}
   }},
  {"data": {"name": "topo"}, "mark": {"type": "line", "color": "#333333", "strokeWidth": 3.5},
   "encoding": {"x": {"field": "t", "type": "quantitative"}, "y": {"field": "m", "type": "quantitative"}, "detail": {"field": "p"}}},
  {"data": {"name": "phases"}, "transform": [{"filter": "datum.phase !== 'Recovery'"}],
   "mark": {"type": "rule", "color": "#7f7f7f", "strokeWidth": 3.5, "strokeDash": [4, 3]},
   "encoding": {"x": {"field": "end", "type": "quantitative"}, "y": {"datum": 0.6}, "y2": {"datum": 0.1923}}},
  {"data": {"name": "phases"}, "transform": [{"filter": "datum.phase !== 'Wakefulness'"}],
   "mark": {"type": "rule", "color": "#7f7f7f", "strokeWidth": 3.5, "strokeDash": [4, 3]},
   "encoding": {"x": {"field": "start", "type": "quantitative"}, "y": {"datum": 0.6}, "y2": {"datum": 0.1923}}},
  {"data": {"values": [{}]}, "mark": {"type": "text", "text": "C", "font": "Lato", "fontSize": 80, "color": "#000", "baseline": "middle", "align": "left", "dx": -153, "dy": 2},
   "encoding": {"x": {"datum": 0}, "y": {"datum": 0.6}}}
 ]
},
{
 "width": 330, "height": 467,
 "data": {"name": "means"},
 "transform": [{"filter": "datum.metric === 'Topo'"}],
 "layer": [
  {"mark": {"type": "rule", "color": "#a8a8a8", "strokeWidth": 2.5},
   "encoding": {
    "x": {"field": "stage", "type": "ordinal", "scale": {"type": "point", "domain": ["W", "L", "D", "T", "R"], "padding": 0.5},
          "axis": {"title": null, "labelAngle": 0, "labelFontSize": 30, "labelPadding": 3, "tickSize": 10, "tickWidth": 3}},
    "y": {"field": "lo", "type": "quantitative", "scale": {"domain": [0.2, 0.6], "nice": false, "zero": false},
          "axis": {"title": null, "values": [0.2, 0.3, 0.4, 0.5, 0.6], "format": ".1f", "tickSize": 7, "labelPadding": 4}},
    "y2": {"field": "hi"}}},
  {"mark": {"type": "tick", "color": "#a8a8a8", "thickness": 2.5, "size": 10},
   "encoding": {"x": {"field": "stage", "type": "ordinal"}, "y": {"field": "hi", "type": "quantitative"}}},
  {"mark": {"type": "tick", "color": "#a8a8a8", "thickness": 2.5, "size": 10},
   "encoding": {"x": {"field": "stage", "type": "ordinal"}, "y": {"field": "lo", "type": "quantitative"}}},
  {"mark": {"type": "line", "color": "#333333", "strokeWidth": 4},
   "encoding": {"x": {"field": "stage", "type": "ordinal"}, "y": {"field": "m", "type": "quantitative"}, "order": {"value": null}}},
  {"transform": [{"filter": "datum.sig === '*'"}],
   "mark": {"type": "text", "font": "Liberation Sans", "fontSize": 56, "fontWeight": "bold", "color": "#222", "baseline": "alphabetic", "align": "center", "dy": 12},
   "encoding": {"x": {"field": "stage", "type": "ordinal"}, "y": {"field": "hi", "type": "quantitative"}, "text": {"field": "sig"}}}
 ]
}
]
}
